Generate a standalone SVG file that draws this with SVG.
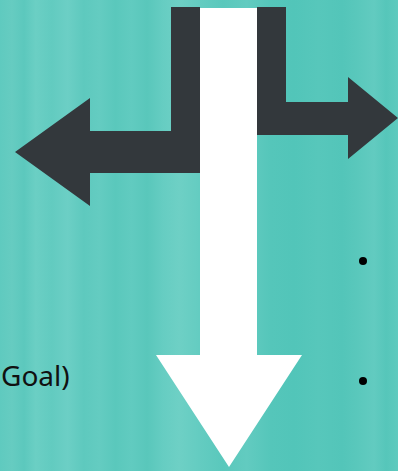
<svg xmlns="http://www.w3.org/2000/svg" width="398" height="471" viewBox="0 0 398 471">
  <defs>
    <linearGradient id="stripes" x1="0" y1="0" x2="398" y2="0" gradientUnits="userSpaceOnUse">
      <stop offset="0" stop-color="#5fcabf"/>
      <stop offset="0.03" stop-color="#66ccc1"/>
      <stop offset="0.06" stop-color="#5cc8bd"/>
      <stop offset="0.09" stop-color="#6bcfc4"/>
      <stop offset="0.13" stop-color="#62cbc0"/>
      <stop offset="0.17" stop-color="#6ccfc5"/>
      <stop offset="0.21" stop-color="#5ec9be"/>
      <stop offset="0.25" stop-color="#64ccc1"/>
      <stop offset="0.29" stop-color="#5ac8bc"/>
      <stop offset="0.33" stop-color="#61cbc0"/>
      <stop offset="0.37" stop-color="#59c7bb"/>
      <stop offset="0.41" stop-color="#66cdc2"/>
      <stop offset="0.45" stop-color="#6ed0c5"/>
      <stop offset="0.50" stop-color="#64ccc1"/>
      <stop offset="0.56" stop-color="#5ac8bc"/>
      <stop offset="0.62" stop-color="#62cbc0"/>
      <stop offset="0.68" stop-color="#55c6ba"/>
      <stop offset="0.74" stop-color="#52c5b9"/>
      <stop offset="0.80" stop-color="#57c7bb"/>
      <stop offset="0.86" stop-color="#53c5b9"/>
      <stop offset="0.90" stop-color="#5ac8bc"/>
      <stop offset="0.94" stop-color="#62cbc0"/>
      <stop offset="0.97" stop-color="#56c6ba"/>
      <stop offset="1" stop-color="#5ecabe"/>
    </linearGradient>
    <style>
      .dark { fill: #33383c; }
      .white { fill: #ffffff; }
      .label { font-family: "Noto Sans", "Liberation Sans", sans-serif; font-size: 28px; fill: #111111; }
      .bullet { fill: #000000; }
    </style>
  </defs>
  <rect x="0" y="0" width="398" height="471" fill="url(#stripes)"/>

  <g id="connectors">
    <g id="left-arrow">
      <path class="dark" d="M171,7 H200 V173 H90 V206 L15,152 L90,98 V131 H171 Z"/>
    </g>
    <g id="right-arrow">
      <path class="dark" d="M257,7 H286 V102 H348 V77 L398,118 L348,159 V135 H257 Z"/>
    </g>
    <g id="down-arrow">
      <path class="white" d="M200,8 H257 V355 H302 L229,467 L156,355 H200 Z"/>
    </g>
  </g>

  <g id="label-goal">
    <text class="label" x="1" y="386">Goal)</text>
  </g>
  <g id="bullets">
    <circle class="bullet" cx="363" cy="261" r="4"/>
    <circle class="bullet" cx="363" cy="381" r="4"/>
  </g>
</svg>
